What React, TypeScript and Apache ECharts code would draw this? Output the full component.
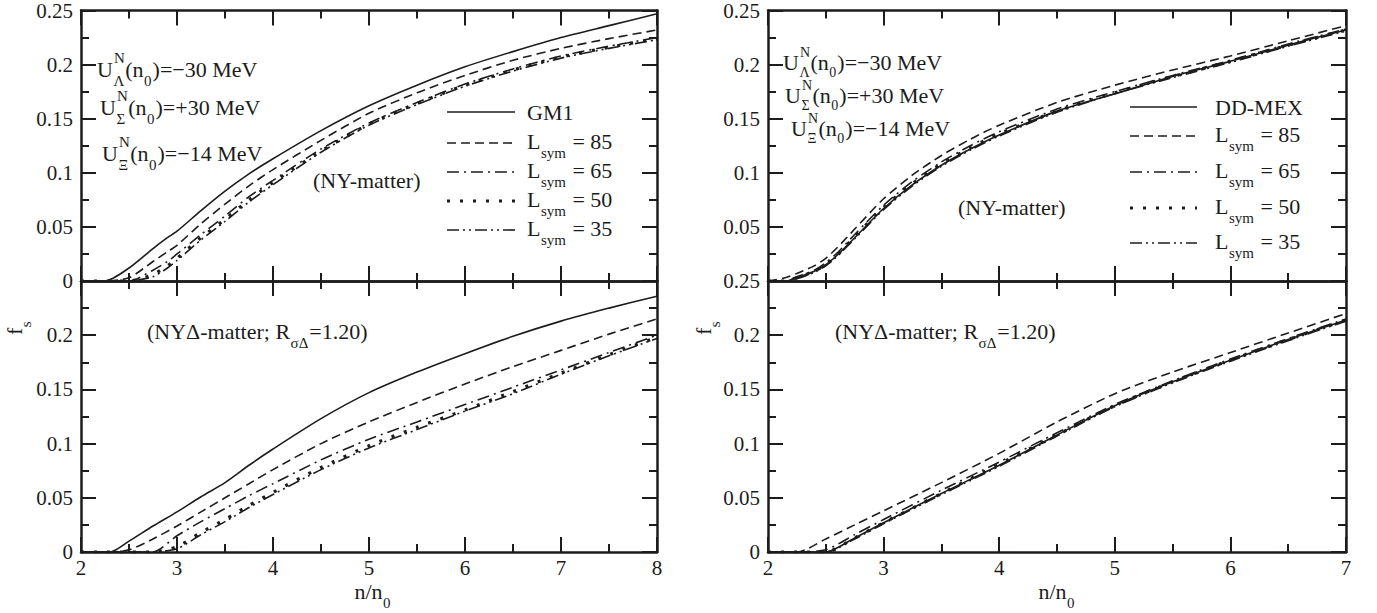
import React, { useEffect, useRef } from "react";
import * as echarts from "echarts";

const FONT = '"Liberation Serif", "Times New Roman", serif';
const INK = "#1c1c1c";

// ---------- data ----------
// Top-left: GM1, NY-matter
const X_TL = [2, 2.25, 2.5, 2.75, 2.9, 3, 3.25, 3.5, 3.75, 4, 4.5, 5, 5.5, 6, 6.5, 7, 7.5, 8];
const TL_GM1 = [0, 0, 0.012, 0.03, 0.04, 0.046, 0.065, 0.083, 0.099, 0.113, 0.139, 0.162, 0.181, 0.198, 0.212, 0.225, 0.236, 0.247];
const TL_L85 = [0, 0, 0.003, 0.018, 0.027, 0.033, 0.053, 0.071, 0.088, 0.103, 0.13, 0.155, 0.174, 0.19, 0.204, 0.215, 0.224, 0.232];
const TL_L65 = [0, 0, 0, 0.01, 0.018, 0.025, 0.043, 0.06, 0.078, 0.093, 0.122, 0.146, 0.165, 0.182, 0.196, 0.208, 0.217, 0.225];
const TL_L50 = [0, 0, 0, 0.006, 0.014, 0.021, 0.04, 0.057, 0.075, 0.091, 0.12, 0.145, 0.164, 0.181, 0.195, 0.207, 0.216, 0.224];
const TL_L35 = [0, 0, 0, 0.004, 0.012, 0.019, 0.038, 0.055, 0.073, 0.089, 0.119, 0.144, 0.163, 0.18, 0.194, 0.206, 0.215, 0.223];

// Bottom-left: GM1, NYΔ-matter
const X_BL = [2, 2.3, 2.5, 2.75, 3, 3.25, 3.5, 3.75, 4, 4.5, 5, 5.5, 6, 6.5, 7, 7.5, 8];
const BL_GM1 = [0, 0, 0.01, 0.024, 0.037, 0.051, 0.064, 0.08, 0.095, 0.123, 0.147, 0.166, 0.183, 0.199, 0.213, 0.225, 0.236];
const BL_L85 = [0, 0, 0.002, 0.012, 0.024, 0.037, 0.05, 0.063, 0.076, 0.1, 0.12, 0.138, 0.155, 0.171, 0.186, 0.201, 0.215];
const BL_L65 = [0, 0, 0, 0, 0.015, 0.028, 0.04, 0.052, 0.063, 0.085, 0.104, 0.12, 0.136, 0.152, 0.168, 0.184, 0.2];
const BL_L50 = [0, 0, 0, 0, 0.005, 0.018, 0.03, 0.043, 0.055, 0.078, 0.098, 0.115, 0.131, 0.148, 0.165, 0.182, 0.198];
const BL_L35 = [0, 0, 0, 0, 0.003, 0.016, 0.028, 0.041, 0.053, 0.076, 0.096, 0.113, 0.13, 0.146, 0.164, 0.181, 0.197];

// Top-right: DD-MEX, NY-matter
const X_TR = [2, 2.15, 2.25, 2.4, 2.5, 2.6, 2.75, 3, 3.25, 3.5, 3.75, 4, 4.5, 5, 5.5, 6, 6.5, 7];
const TR_DDMEX = [0, 0, 0.003, 0.009, 0.015, 0.024, 0.04, 0.067, 0.089, 0.107, 0.122, 0.135, 0.157, 0.173, 0.189, 0.203, 0.218, 0.232];
const TR_L85 = [0, 0.003, 0.007, 0.014, 0.021, 0.031, 0.048, 0.076, 0.098, 0.116, 0.131, 0.144, 0.165, 0.181, 0.195, 0.208, 0.222, 0.236];
const TR_L65 = [0, 0, 0.004, 0.01, 0.017, 0.026, 0.043, 0.07, 0.092, 0.11, 0.125, 0.138, 0.159, 0.175, 0.19, 0.204, 0.219, 0.233];
const TR_L50 = [0, 0, 0.003, 0.009, 0.015, 0.024, 0.041, 0.068, 0.09, 0.108, 0.123, 0.136, 0.157, 0.174, 0.189, 0.203, 0.218, 0.232];
const TR_L35 = [0, 0, 0.002, 0.008, 0.014, 0.023, 0.039, 0.066, 0.088, 0.106, 0.121, 0.134, 0.156, 0.173, 0.188, 0.202, 0.217, 0.231];

// Bottom-right: DD-MEX, NYΔ-matter
const X_BR = [2, 2.25, 2.5, 2.75, 3, 3.5, 4, 4.5, 5, 5.5, 6, 6.5, 7];
const BR_DDMEX = [0, 0, 0, 0.013, 0.027, 0.054, 0.08, 0.108, 0.135, 0.157, 0.177, 0.196, 0.214];
const BR_L85 = [0, 0, 0.012, 0.025, 0.038, 0.064, 0.091, 0.12, 0.146, 0.166, 0.184, 0.202, 0.22];
const BR_L65 = [0, 0, 0.002, 0.016, 0.03, 0.057, 0.083, 0.11, 0.136, 0.158, 0.178, 0.197, 0.215];
const BR_L50 = [0, 0, 0, 0.013, 0.027, 0.054, 0.081, 0.108, 0.135, 0.157, 0.177, 0.196, 0.214];
const BR_L35 = [0, 0, 0, 0.012, 0.026, 0.053, 0.079, 0.107, 0.134, 0.156, 0.176, 0.195, 0.213];

const LSYM_VALUES = ["85", "65", "50", "35"];

// ---------- styles ----------
const LINE_STYLES: any[] = [
  { type: "solid", width: 1.6 },
  { type: [9, 5], width: 1.6 },
  { type: [12, 5, 2, 5], width: 1.6 },
  { type: [3, 10], width: 3.2 },
  { type: [12, 4, 2, 4, 2, 4], width: 1.6 },
];

let measureCtx: CanvasRenderingContext2D | null = null;
function tw(t: string, size: number) {
  if (!measureCtx) measureCtx = document.createElement("canvas").getContext("2d");
  measureCtx!.font = `${size}px "Liberation Serif"`;
  return measureCtx!.measureText(t).width;
}

type Tok = string | { sup?: string; sub?: string };
const MAIN = 22;
const SMALL = 15;

function tokWidth(tokens: Tok[], size: number, small: number) {
  let w = 0;
  for (const t of tokens) {
    if (typeof t === "string") w += tw(t, size);
    else w += Math.max(t.sup ? tw(t.sup, small) : 0, t.sub ? tw(t.sub, small) : 0) + 1.5;
  }
  return w;
}

function richLine(
  x: number,
  y: number,
  tokens: Tok[],
  opts: { size?: number; small?: number; align?: "left" | "center"; supDy?: number; subDy?: number } = {}
) {
  const size = opts.size ?? MAIN;
  const small = opts.small ?? SMALL;
  const supDy = opts.supDy ?? -11;
  const subDy = opts.subDy ?? 12;
  const els: any[] = [];
  let cx = opts.align === "center" ? x - tokWidth(tokens, size, small) / 2 : x;
  const txt = (s: string, px: number, py: number, fs: number) => ({
    type: "text",
    x: px,
    y: py,
    silent: true,
    style: { text: s, fontSize: fs, fontFamily: FONT, fill: INK, align: "left", verticalAlign: "middle" },
  });
  for (const t of tokens) {
    if (typeof t === "string") {
      els.push(txt(t, cx, y, size));
      cx += tw(t, size);
    } else {
      const w = Math.max(t.sup ? tw(t.sup, small) : 0, t.sub ? tw(t.sub, small) : 0);
      if (t.sup) els.push(txt(t.sup, cx + 1, y + supDy, small));
      if (t.sub) els.push(txt(t.sub, cx + 0.5, y + subDy, small));
      cx += w + 1.5;
    }
  }
  return els;
}

function buildOption() {
  const grids = [
    { left: 81, top: 9, width: 576, height: 272 },
    { left: 81, top: 281, width: 576, height: 271 },
    { left: 768, top: 9, width: 578, height: 272 },
    { left: 768, top: 281, width: 578, height: 271 },
  ];
  const xMax = [8, 8, 7, 7];
  const showX = [false, true, false, true];
  const hideY: (number | null)[] = [null, 0.25, 0, null];

  const axisLine = { show: true, onZero: false, lineStyle: { color: INK, width: 2.5 } };
  const axisTick = { show: true, inside: true, length: 15, lineStyle: { color: INK, width: 2 } };
  const minorTick = { show: true, splitNumber: 2, length: 8, lineStyle: { color: INK, width: 2 } };

  const xAxis: any[] = [];
  const yAxis: any[] = [];
  grids.forEach((_, gi) => {
    const base = {
      type: "value",
      gridIndex: gi,
      min: 2,
      max: xMax[gi],
      interval: 1,
      axisLine,
      axisTick,
      minorTick,
      splitLine: { show: false },
    };
    xAxis.push({
      ...base,
      position: "bottom",
      axisLabel: { show: showX[gi], fontSize: 21, fontFamily: FONT, color: INK, margin: 5 },
    });
    xAxis.push({ ...base, position: "top", axisLabel: { show: false } });
    const ybase = {
      type: "value",
      gridIndex: gi,
      min: 0,
      max: 0.25,
      interval: 0.05,
      axisLine,
      axisTick,
      minorTick,
      splitLine: { show: false },
    };
    const hv = hideY[gi];
    yAxis.push({
      ...ybase,
      position: "left",
      axisLabel: {
        show: true,
        fontSize: 21,
        fontFamily: FONT,
        color: INK,
        margin: 8,
        formatter: (v: number) => {
          const r = parseFloat(v.toFixed(3));
          if (hv !== null && Math.abs(r - hv) < 1e-6) return "";
          return String(r);
        },
      },
    });
    yAxis.push({ ...ybase, position: "right", axisLabel: { show: false } });
  });

  const panels = [
    { xs: X_TL, ys: [TL_GM1, TL_L85, TL_L65, TL_L50, TL_L35], first: "GM1" },
    { xs: X_BL, ys: [BL_GM1, BL_L85, BL_L65, BL_L50, BL_L35], first: "GM1" },
    { xs: X_TR, ys: [TR_DDMEX, TR_L85, TR_L65, TR_L50, TR_L35], first: "DD-MEX" },
    { xs: X_BR, ys: [BR_DDMEX, BR_L85, BR_L65, BR_L50, BR_L35], first: "DD-MEX" },
  ];
  const series: any[] = [];
  panels.forEach((p, gi) => {
    p.ys.forEach((arr, si) => {
      const nm = si === 0 ? p.first : `L_sym = ${LSYM_VALUES[si - 1]}`;
      series.push({
        type: "line",
        name: `${nm} (${gi})`,
        xAxisIndex: gi * 2,
        yAxisIndex: gi * 2,
        data: p.xs.map((x, i) => [x, arr[i]]),
        symbol: "none",
        showSymbol: false,
        smooth: 0.25,
        clip: true,
        silent: true,
        lineStyle: { color: INK, ...LINE_STYLES[si], cap: "butt" },
      });
    });
  });

  // ---------- graphic annotations ----------
  const g: any[] = [];
  const uLines = (x0: number[], ys: number[], o: any = {}) => {
    g.push(...richLine(x0[0], ys[0], ["U", { sup: "N", sub: "Λ" }, "(n", { sub: "0" }, ")=−30 MeV"], o));
    g.push(...richLine(x0[1], ys[1], ["U", { sup: "N", sub: "Σ" }, "(n", { sub: "0" }, ")=+30 MeV"], o));
    g.push(...richLine(x0[2], ys[2], ["U", { sup: "N", sub: "Ξ" }, "(n", { sub: "0" }, ")=−14 MeV"], o));
  };
  uLines([97, 100, 102], [69, 107, 153]);
  uLines([783, 785, 791], [62, 95, 128], { small: 14, supDy: -10, subDy: 10 });

  g.push(...richLine(313, 180, ["(NY-matter)"]));
  g.push(...richLine(958, 207, ["(NY-matter)"]));
  g.push(...richLine(147, 331, ["(NYΔ-matter; R", { sub: "σΔ" }, "=1.20)"]));
  g.push(...richLine(835, 331, ["(NYΔ-matter; R", { sub: "σΔ" }, "=1.20)"]));

  // legends
  const legend = (x1: number, x2: number, tx: number, rows: number[], first: string) => {
    rows.forEach((ry, i) => {
      const ls = LINE_STYLES[i];
      g.push({
        type: "line",
        silent: true,
        shape: { x1, y1: ry, x2, y2: ry },
        style: {
          stroke: INK,
          lineWidth: ls.width,
          lineDash: Array.isArray(ls.type) ? ls.type : null,
        },
      });
      if (i === 0) g.push(...richLine(tx, ry, [first]));
      else g.push(...richLine(tx, ry - 2, ["L", { sub: "sym" }, ` = ${LSYM_VALUES[i - 1]}`]));
    });
  };
  legend(447, 515, 527, [112, 143, 172, 201, 230], "GM1");
  legend(1130, 1197, 1215, [107, 136, 172, 208, 243], "DD-MEX");

  // axis names
  g.push(...richLine(373, 591, ["n/n", { sub: "0" }], { align: "center" }));
  g.push(...richLine(1057, 591, ["n/n", { sub: "0" }], { align: "center" }));

  const fs = (x: number, y: number) => ({
    type: "group",
    x,
    y,
    rotation: Math.PI / 2,
    silent: true,
    children: richLine(0, 0, ["f", { sub: "s" }]),
  });
  g.push(fs(14, 335));
  g.push(fs(703, 335));

  return {
    animation: false,
    backgroundColor: "#ffffff",
    grid: grids.map((gr) => ({ ...gr, containLabel: false })),
    xAxis,
    yAxis,
    series,
    graphic: { elements: g },
  };
}

export default function App() {
  const ref = useRef<HTMLDivElement>(null);
  useEffect(() => {
    const chart = echarts.init(ref.current!, null, { renderer: "svg" });
    chart.setOption(buildOption() as any);
    return () => chart.dispose();
  }, []);
  return (
    <div
      ref={ref}
      style={{ position: "fixed", left: 0, top: 0, width: 1377, height: 613, background: "#fff" }}
    />
  );
}
